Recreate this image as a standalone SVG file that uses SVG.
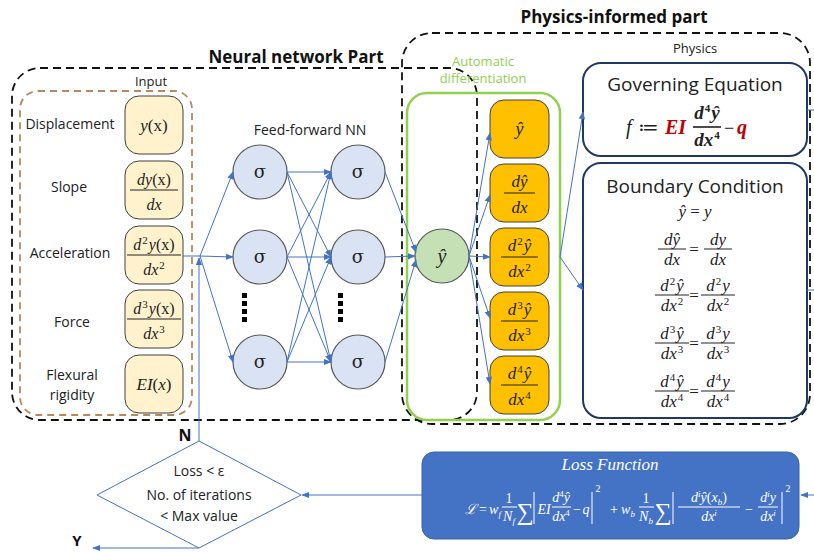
<svg xmlns="http://www.w3.org/2000/svg" width="814" height="552" viewBox="0 0 814 552">
<defs>
<marker id="ah" viewBox="0 0 10 10" refX="9" refY="5" markerWidth="8" markerHeight="8" markerUnits="userSpaceOnUse" orient="auto"><path d="M0,1 L10,5 L0,9 z" fill="#4472c4"/></marker>
<style>
.lbl{font-family:"Open Sans","Noto Sans",sans-serif;font-size:14px;fill:#222;text-anchor:middle}
.hd{font-family:"Open Sans","Noto Sans",sans-serif;font-size:17px;font-weight:bold;fill:#111;text-anchor:middle}
.m{font-family:"Liberation Serif","DejaVu Serif",serif;font-style:italic;text-anchor:middle;fill:#222}
.up{font-style:normal}
.sup{font-size:11px;font-style:normal}
.node{fill:#dae3f3;stroke:#595959;stroke-width:1.2}
.in{fill:#fff2cc;stroke:#404040;stroke-width:1}
.or{fill:#ffc000;stroke:#404040;stroke-width:1}
.bar{stroke:#222;stroke-width:1}
.c{stroke:#4472c4;stroke-width:1;fill:none;marker-end:url(#ah)}
.l{stroke:#4472c4;stroke-width:1;fill:none}
.dash{fill:none;stroke:#111;stroke-width:1.8;stroke-dasharray:8 5}
.phy{fill:#fff;stroke:#1f3864;stroke-width:2}
.sig{font-family:"DejaVu Serif","Liberation Serif",serif;font-size:18px;fill:#222;text-anchor:middle}
.lf text{fill:#fff}
.lf .n{font-style:normal}
.wb{stroke:#fff;stroke-width:1}
</style>
</defs>

<!-- region frames -->
<g id="nn-part">
<rect class="dash" x="12" y="68" width="465" height="352" rx="28"/>
<text class="hd" x="296" y="63">Neural network Part</text>
</g>
<g id="physics-part">
<rect class="dash" x="402" y="33" width="408" height="391" rx="30"/>
<text class="hd" x="614" y="23">Physics-informed part</text>
<text class="lbl" x="695" y="53" style="font-size:13px">Physics</text>
</g>

<!-- input -->
<g id="input">
<rect x="20" y="91" width="172" height="324" rx="18" fill="none" stroke="#b5895b" stroke-width="1.8" stroke-dasharray="7 5"/>
<text class="lbl" x="151" y="86" style="font-size:13px">Input</text>
<text class="lbl" x="70" y="129">Displacement</text>
<text class="lbl" x="69" y="192">Slope</text>
<text class="lbl" x="70" y="258">Acceleration</text>
<text class="lbl" x="72" y="327">Force</text>
<text class="lbl" x="72" y="380">Flexural</text>
<text class="lbl" x="72" y="400">rigidity</text>
</g>
<g id="in-y">
<rect class="in" x="125" y="96" width="58" height="58" rx="14"/>
<text class="m" x="154" y="131" font-size="17">y<tspan class="up">(x)</tspan></text>
</g>
<g id="in-dy">
<rect class="in" x="125" y="161" width="58" height="58" rx="14"/>
<text class="m" x="154" y="185" font-size="16">dy<tspan class="up">(x)</tspan></text>
<line class="bar" x1="130" y1="190" x2="178" y2="190"/>
<text class="m" x="154" y="210" font-size="16">dx</text>
</g>
<g id="in-d2y">
<rect class="in" x="125" y="226" width="58" height="58" rx="14"/>
<text class="m" x="154" y="250" font-size="16">d<tspan class="sup" dx="1" dy="-6">2</tspan><tspan dx="1" dy="6">y</tspan><tspan class="up">(x)</tspan></text>
<line class="bar" x1="127" y1="255" x2="181" y2="255"/>
<text class="m" x="154" y="275" font-size="16">dx<tspan class="sup" dx="1" dy="-6">2</tspan></text>
</g>
<g id="in-d3y">
<rect class="in" x="125" y="290" width="58" height="58" rx="14"/>
<text class="m" x="154" y="314" font-size="16">d<tspan class="sup" dx="1" dy="-6">3</tspan><tspan dx="1" dy="6">y</tspan><tspan class="up">(x)</tspan></text>
<line class="bar" x1="127" y1="319" x2="181" y2="319"/>
<text class="m" x="154" y="339" font-size="16">dx<tspan class="sup" dx="1" dy="-6">3</tspan></text>
</g>
<g id="in-ei">
<rect class="in" x="125" y="355" width="58" height="58" rx="14"/>
<text class="m" x="154" y="390" font-size="17">EI<tspan class="up">(</tspan>x<tspan class="up">)</tspan></text>
</g>

<!-- neural network -->
<text class="lbl" x="310" y="135">Feed-forward NN</text>
<g id="h1a"><circle class="node" cx="260" cy="172" r="27"/><text class="sig" x="260" y="178">σ</text></g>
<g id="h1b"><circle class="node" cx="260" cy="257" r="27"/><text class="sig" x="260" y="263">σ</text></g>
<g id="h1c"><circle class="node" cx="260" cy="362" r="27"/><text class="sig" x="260" y="368">σ</text></g>
<g id="h2a"><circle class="node" cx="358" cy="172" r="27"/><text class="sig" x="358" y="178">σ</text></g>
<g id="h2b"><circle class="node" cx="358" cy="257" r="27"/><text class="sig" x="358" y="263">σ</text></g>
<g id="h2c"><circle class="node" cx="358" cy="362" r="27"/><text class="sig" x="358" y="368">σ</text></g>
<g id="dots" fill="#000">
<rect x="242" y="293" width="5" height="5"/><rect x="242" y="301" width="5" height="5"/><rect x="242" y="309" width="5" height="5"/><rect x="242" y="317" width="5" height="5"/>
<rect x="338" y="293" width="5" height="5"/><rect x="338" y="301" width="5" height="5"/><rect x="338" y="309" width="5" height="5"/><rect x="338" y="317" width="5" height="5"/>
</g>

<!-- AD -->
<g id="ad">
<rect x="407" y="93" width="153" height="327" rx="20" fill="none" stroke="#92d050" stroke-width="2.5"/>
<text class="lbl" x="483" y="66" style="font-size:13px;fill:#92d050">Automatic</text>
<text class="lbl" x="483" y="83" style="font-size:13px;fill:#92d050">differentiation</text>
</g>
<g id="yhat">
<circle cx="442" cy="256" r="27" fill="#c5e0b4" stroke="#595959" stroke-width="1.2"/>
<text class="m" x="442" y="263" font-size="20">ŷ</text>
</g>
<g id="o1"><rect class="or" x="490" y="100" width="59" height="58" rx="14"/><text class="m" x="519.5" y="135" font-size="18">ŷ</text></g>
<g id="o2"><rect class="or" x="490" y="164" width="59" height="58" rx="14"/>
<text class="m" x="519.5" y="187" font-size="17">dŷ</text><line class="bar" x1="504" y1="193" x2="535" y2="193"/><text class="m" x="519.5" y="213" font-size="17">dx</text></g>
<g id="o3"><rect class="or" x="490" y="228" width="59" height="58" rx="14"/>
<text class="m" x="519.5" y="251" font-size="17">d<tspan class="sup" dx="1" dy="-6">2</tspan><tspan dx="1" dy="6">ŷ</tspan></text><line class="bar" x1="501" y1="257" x2="538" y2="257"/><text class="m" x="519.5" y="277" font-size="17">dx<tspan class="sup" dx="1" dy="-6">2</tspan></text></g>
<g id="o4"><rect class="or" x="490" y="292" width="59" height="58" rx="14"/>
<text class="m" x="519.5" y="315" font-size="17">d<tspan class="sup" dx="1" dy="-6">3</tspan><tspan dx="1" dy="6">ŷ</tspan></text><line class="bar" x1="501" y1="321" x2="538" y2="321"/><text class="m" x="519.5" y="341" font-size="17">dx<tspan class="sup" dx="1" dy="-6">3</tspan></text></g>
<g id="o5"><rect class="or" x="490" y="356" width="59" height="58" rx="14"/>
<text class="m" x="519.5" y="379" font-size="17">d<tspan class="sup" dx="1" dy="-6">4</tspan><tspan dx="1" dy="6">ŷ</tspan></text><line class="bar" x1="501" y1="385" x2="538" y2="385"/><text class="m" x="519.5" y="405" font-size="17">dx<tspan class="sup" dx="1" dy="-6">4</tspan></text></g>

<!-- physics -->
<g id="governing">
<rect class="phy" x="583" y="63" width="224" height="93" rx="18"/>
<text class="lbl" x="695" y="91" style="font-size:19px">Governing Equation</text>
<text class="m" x="626" y="134" font-size="20" style="text-anchor:start">f</text>
<text x="638" y="134" font-size="20" font-family="DejaVu Serif,serif" fill="#222">≔</text>
<text class="m" x="665" y="134" font-size="20" font-weight="bold" style="text-anchor:start;fill:#c00000">EI</text>
<text class="m" x="707" y="119" font-size="19" font-weight="bold">d<tspan class="sup" dx="1" dy="-7" font-weight="bold">4</tspan><tspan dx="1" dy="7">ŷ</tspan></text>
<line x1="693" y1="127" x2="721" y2="127" stroke="#111" stroke-width="1.5"/>
<text class="m" x="707" y="146" font-size="19" font-weight="bold">dx<tspan class="sup" dx="1" dy="-7" font-weight="bold">4</tspan></text>
<text x="729" y="134" font-size="18" font-family="Liberation Serif,serif" fill="#222" text-anchor="middle">−</text>
<text class="m" x="742" y="134" font-size="20" font-weight="bold" style="fill:#c00000">q</text>
</g>
<g id="boundary">
<rect class="phy" x="583" y="163" width="224" height="255" rx="18"/>
<text class="lbl" x="695" y="193" style="font-size:19px">Boundary Condition</text>
<text class="m" x="695" y="217" font-size="17">ŷ <tspan class="up">=</tspan> y</text>
<text class="m" x="672" y="245" font-size="17">dŷ</text><line class="bar" x1="658" y1="249" x2="686" y2="249"/><text class="m" x="672" y="265" font-size="17">dx</text>
<text class="m" x="694" y="255" font-size="17" style="font-style:normal">=</text>
<text class="m" x="718" y="245" font-size="17">dy</text><line class="bar" x1="704" y1="249" x2="732" y2="249"/><text class="m" x="718" y="265" font-size="17">dx</text>

<text class="m" x="672" y="291" font-size="17">d<tspan class="sup" dx="1" dy="-6">2</tspan><tspan dx="1" dy="6">ŷ</tspan></text><line class="bar" x1="655" y1="295" x2="689" y2="295"/><text class="m" x="672" y="311" font-size="17">dx<tspan class="sup" dx="1" dy="-6">2</tspan></text>
<text class="m" x="694" y="301" font-size="17" style="font-style:normal">=</text>
<text class="m" x="718" y="291" font-size="17">d<tspan class="sup" dx="1" dy="-6">2</tspan><tspan dx="1" dy="6">y</tspan></text><line class="bar" x1="701" y1="295" x2="735" y2="295"/><text class="m" x="718" y="311" font-size="17">dx<tspan class="sup" dx="1" dy="-6">2</tspan></text>

<text class="m" x="672" y="339" font-size="17">d<tspan class="sup" dx="1" dy="-6">3</tspan><tspan dx="1" dy="6">ŷ</tspan></text><line class="bar" x1="655" y1="343" x2="689" y2="343"/><text class="m" x="672" y="359" font-size="17">dx<tspan class="sup" dx="1" dy="-6">3</tspan></text>
<text class="m" x="694" y="349" font-size="17" style="font-style:normal">=</text>
<text class="m" x="718" y="339" font-size="17">d<tspan class="sup" dx="1" dy="-6">3</tspan><tspan dx="1" dy="6">y</tspan></text><line class="bar" x1="701" y1="343" x2="735" y2="343"/><text class="m" x="718" y="359" font-size="17">dx<tspan class="sup" dx="1" dy="-6">3</tspan></text>

<text class="m" x="672" y="387" font-size="17">d<tspan class="sup" dx="1" dy="-6">4</tspan><tspan dx="1" dy="6">ŷ</tspan></text><line class="bar" x1="655" y1="391" x2="689" y2="391"/><text class="m" x="672" y="407" font-size="17">dx<tspan class="sup" dx="1" dy="-6">4</tspan></text>
<text class="m" x="694" y="397" font-size="17" style="font-style:normal">=</text>
<text class="m" x="718" y="387" font-size="17">d<tspan class="sup" dx="1" dy="-6">4</tspan><tspan dx="1" dy="6">y</tspan></text><line class="bar" x1="701" y1="391" x2="735" y2="391"/><text class="m" x="718" y="407" font-size="17">dx<tspan class="sup" dx="1" dy="-6">4</tspan></text>
</g>

<!-- loss function -->
<g id="loss">
<rect x="422" y="452" width="377" height="87" rx="12" fill="#4472c4" stroke="#3a62a8" stroke-width="1"/>
<text class="m" x="610" y="470" style="fill:#fff;font-size:17px">Loss Function</text>
<g class="m lf" font-size="14">
<text x="471" y="514">ℒ</text>
<text class="n" x="483" y="514">=</text>
<text x="495" y="514">w<tspan font-size="9" dy="3">f</tspan></text>
<text class="n" x="509" y="503">1</text><line class="wb" x1="502" y1="507" x2="517" y2="507"/><text x="509" y="521">N<tspan font-size="9" dy="3">f</tspan></text>
<text class="n" x="525" y="520" font-size="24">∑</text>
<line class="wb" x1="534" y1="492" x2="534" y2="524"/>
<text x="544" y="514">EI</text>
<text x="561" y="502">d<tspan font-size="9" dy="-5" class="n">4</tspan><tspan dy="5">ŷ</tspan></text><line class="wb" x1="552" y1="507" x2="571" y2="507"/><text x="561" y="521">dx<tspan font-size="9" dy="-5" class="n">4</tspan></text>
<text class="n" x="577" y="514">−</text>
<text x="586" y="514">q</text>
<line class="wb" x1="592" y1="492" x2="592" y2="524"/>
<text class="n" x="598" y="492" font-size="10">2</text>
<text class="n" x="614" y="514">+</text>
<text x="628" y="514">w<tspan font-size="9" dy="3">b</tspan></text>
<text class="n" x="646" y="503">1</text><line class="wb" x1="639" y1="507" x2="654" y2="507"/><text x="646" y="521">N<tspan font-size="9" dy="3">b</tspan></text>
<text class="n" x="663" y="520" font-size="24">∑</text>
<line class="wb" x1="673" y1="492" x2="673" y2="524"/>
<text x="709" y="502">d<tspan font-size="9" dy="-5">i</tspan><tspan dy="5">ŷ</tspan><tspan class="n">(</tspan>x<tspan font-size="9" dy="3">b</tspan><tspan dy="-3" class="n">)</tspan></text><line class="wb" x1="678" y1="507" x2="740" y2="507"/><text x="709" y="521">dx<tspan font-size="9" dy="-5">i</tspan></text>
<text class="n" x="749" y="514">−</text>
<text x="768" y="502">d<tspan font-size="9" dy="-5">i</tspan><tspan dy="5">y</tspan></text><line class="wb" x1="758" y1="507" x2="778" y2="507"/><text x="768" y="521">dx<tspan font-size="9" dy="-5">i</tspan></text>
<line class="wb" x1="782" y1="492" x2="782" y2="524"/>
<text class="n" x="788" y="492" font-size="10">2</text>
</g>
</g>

<!-- decision -->
<g id="decision">
<polygon points="199,441 301,495 199,548 97,495" fill="#fff" stroke="#4472c4" stroke-width="1"/>
<text class="lbl" x="199" y="476">Loss &lt; ε</text>
<text class="lbl" x="199" y="500">No. of iterations</text>
<text class="lbl" x="199" y="521">&lt; Max value</text>
<text class="hd" x="185" y="441" style="font-size:16px">N</text>
<text class="hd" x="77" y="546" style="font-size:15px">Y</text>
</g>

<!-- connectors -->
<g id="connectors">
<line class="l" x1="183" y1="256" x2="200" y2="256"/>
<line class="c" x1="200" y1="256" x2="233" y2="172"/>
<line class="c" x1="200" y1="256" x2="233" y2="257"/>
<line class="c" x1="200" y1="256" x2="233" y2="362"/>
<line class="c" x1="199" y1="441" x2="199" y2="258"/>

<line class="c" x1="287" y1="172" x2="331" y2="172"/>
<line class="c" x1="287" y1="172" x2="331" y2="257"/>
<line class="c" x1="287" y1="172" x2="331" y2="362"/>
<line class="c" x1="287" y1="257" x2="331" y2="172"/>
<line class="c" x1="287" y1="257" x2="331" y2="257"/>
<line class="c" x1="287" y1="257" x2="331" y2="362"/>
<line class="c" x1="287" y1="362" x2="331" y2="172"/>
<line class="c" x1="287" y1="362" x2="331" y2="257"/>
<line class="c" x1="287" y1="362" x2="331" y2="362"/>

<line class="c" x1="385" y1="172" x2="416" y2="252"/>
<line class="c" x1="385" y1="257" x2="415" y2="256"/>
<line class="c" x1="385" y1="362" x2="416" y2="260"/>

<line class="c" x1="469" y1="256" x2="490" y2="133"/>
<line class="c" x1="469" y1="256" x2="490" y2="195"/>
<line class="c" x1="469" y1="256" x2="490" y2="257"/>
<line class="c" x1="469" y1="256" x2="490" y2="318"/>
<line class="c" x1="469" y1="256" x2="490" y2="384"/>

<line class="c" x1="560" y1="257" x2="583" y2="112"/>
<line class="c" x1="560" y1="257" x2="583" y2="290"/>

<line class="l" x1="807" y1="110" x2="814" y2="110"/>
<line class="l" x1="807" y1="290" x2="814" y2="290"/>
<line class="c" x1="814" y1="495" x2="801" y2="495"/>
<line class="c" x1="422" y1="495" x2="302" y2="495"/>
<line class="c" x1="199" y1="548" x2="93" y2="548"/>
</g>
</svg>
